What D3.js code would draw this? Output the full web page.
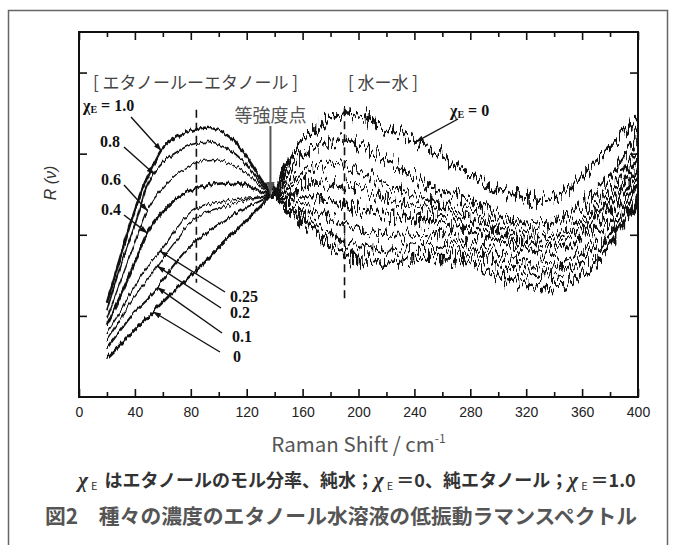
<!DOCTYPE html>
<html>
<head>
<meta charset="utf-8">
<script src="https://cdn.jsdelivr.net/npm/d3@7"></script>
<style>
body{margin:0;background:#fff;}
svg{display:block;}
</style>
</head>
<body>
<svg id="ChartSvg" width="675" height="545"></svg>
<script>
var ShiftValues = [20,30,40,50,60,70,80,90,100,110,120,137,160,190,220,250,280,310,340,370,400];

// ethanol mole fraction of each curve
var MoleFractions = ["1.0","0.8","0.6","0.4","0.25","0.2","0.1","0"];

// R(v), arbitrary units (one unit = one y tick)
var R_E100 = [1.16,1.75,2.31,2.74,3.07,3.21,3.28,3.32,3.29,3.17,2.96,2.52,2.16,1.75,1.66,1.71,1.66,1.44,1.34,1.66,2.45];
var R_E080 = [1.07,1.63,2.12,2.65,2.89,3.02,3.11,3.14,3.11,3.02,2.86,2.50,2.24,1.91,1.81,1.87,1.79,1.59,1.50,1.81,2.58];
var R_E060 = [0.97,1.44,1.90,2.34,2.58,2.75,2.86,2.92,2.92,2.86,2.76,2.50,2.37,2.12,2.00,2.00,1.90,1.71,1.63,1.96,2.70];
var R_E040 = [0.89,1.26,1.66,2.06,2.28,2.45,2.55,2.60,2.63,2.64,2.61,2.49,2.49,2.37,2.24,2.18,2.06,1.87,1.79,2.12,2.82];
var R_E025 = [0.79,1.07,1.38,1.63,1.84,2.08,2.28,2.37,2.40,2.43,2.45,2.49,2.65,2.61,2.43,2.31,2.18,1.96,1.91,2.24,2.95];
var R_E020 = [0.70,0.97,1.25,1.47,1.71,1.94,2.16,2.27,2.33,2.38,2.43,2.49,2.77,2.86,2.61,2.43,2.28,2.06,2.00,2.37,3.07];
var R_E010 = [0.60,0.83,1.05,1.22,1.44,1.66,1.86,2.01,2.13,2.24,2.34,2.49,2.98,3.17,2.92,2.61,2.43,2.18,2.16,2.53,3.23];
var R_E000 = [0.48,0.65,0.83,1.00,1.17,1.34,1.50,1.66,1.84,2.01,2.18,2.49,3.17,3.50,3.32,3.07,2.74,2.49,2.45,2.90,3.44];

var AllSeries = [R_E100,R_E080,R_E060,R_E040,R_E025,R_E020,R_E010,R_E000];

// shift where each label arrow touches its curve
var ArrowShifts = [59,54,49,49,58,56,56,53];
var WaterArrowShift = 241;
var IsoShift = 137;

// dashed guide lines: position and extent
var DashShifts = [84,190];
var DashRanges = [[1.41,3.54],[1.20,3.56]];

var MajorTicks = d3.range(0,401,40);
var MinorTicks = d3.range(20,400,40);
var YTicks = [1,2,3,4];

// ---- layout / style (not data) ----
var Svg = d3.select("#ChartSvg");
var Left = 79, Right = 638, Top = 32, Bottom = 397;

var X = d3.scaleLinear().domain([0,400]).range([Left,Right]);
var Y = d3.scaleLinear().domain([0,4.5]).range([Bottom,Top]);

var LineWidthsLeft = [2.6,1.8,1.4,2.6,1.4,1.4,2,2.6];
var LineWidthsRight = [3.6,3,2.8,3.6,2.8,2.8,3.2,3.6];

var Defs = Svg.append("defs");

function AddNoise(Id, Scale, Freq, Seed)
{
	var F = Defs.append("filter").attr("id",Id)
		.attr("x","-5%").attr("y","-20%").attr("width","110%").attr("height","140%")
		.attr("color-interpolation-filters","sRGB");
	F.append("feTurbulence").attr("type","fractalNoise")
		.attr("baseFrequency",Freq).attr("numOctaves",2).attr("seed",Seed).attr("result","n");
	F.append("feColorMatrix").attr("in","n").attr("type","matrix")
		.attr("values","0 0 0 0 0.5  0 1 0 0 0  0 0 0 0 0  0 0 0 0 1").attr("result","m");
	F.append("feDisplacementMap").attr("in","SourceGraphic").attr("in2","m")
		.attr("scale",Scale).attr("xChannelSelector","R").attr("yChannelSelector","G");
}
AddNoise("NoiseLeft",7,"0.4 0.04",3);
AddNoise("NoiseRight",30,"0.35 0.05",7);

Defs.append("clipPath").attr("id","ClipLeft").append("rect")
	.attr("x",Left).attr("y",Top).attr("width",X(IsoShift)-Left).attr("height",Bottom-Top);
Defs.append("clipPath").attr("id","ClipRight").append("rect")
	.attr("x",X(IsoShift)).attr("y",Top).attr("width",Right-X(IsoShift)).attr("height",Bottom-Top);

function MakeMarker(Id, Size, Color)
{
	Defs.append("marker").attr("id",Id)
		.attr("viewBox","0 0 10 10").attr("refX",10).attr("refY",5)
		.attr("markerWidth",Size).attr("markerHeight",Size)
		.attr("markerUnits","userSpaceOnUse").attr("orient","auto")
		.append("path").attr("d","M0,1.5 L10,5 L0,8.5 z").attr("fill",Color);
}
MakeMarker("ArrowBlack",8,"#111");
MakeMarker("ArrowGray",12,"#555");

// outer frame
Svg.append("rect").attr("x",8.5).attr("y",10.5).attr("width",659).attr("height",560)
	.attr("fill","none").attr("stroke","#666").attr("stroke-width",1.5);

// curves
var Line = d3.line()
	.x(function(d,i){ return X(ShiftValues[i]); })
	.y(function(d){ return Y(d); })
	.curve(d3.curveCatmullRom.alpha(0.5));

[["ClipLeft","NoiseLeft",LineWidthsLeft],["ClipRight","NoiseRight",LineWidthsRight]].forEach(function(Part)
{
	Svg.append("g").attr("clip-path","url(#"+Part[0]+")")
		.append("g").attr("filter","url(#"+Part[1]+")")
		.selectAll("path")
		.data(AllSeries)
		.enter()
		.append("path")
		.attr("d",Line)
		.attr("fill","none")
		.attr("stroke","#111")
		.attr("stroke-width",function(d,i){ return Part[2][i]; })
		.attr("stroke-linejoin","round");
});

// dashed guides
Svg.append("g").selectAll("line")
	.data(DashShifts)
	.enter()
	.append("line")
	.attr("x1",function(d){ return X(d); })
	.attr("x2",function(d){ return X(d); })
	.attr("y1",function(d,i){ return Y(DashRanges[i][1]); })
	.attr("y2",function(d,i){ return Y(DashRanges[i][0]); })
	.attr("stroke","#111").attr("stroke-width",1.6).attr("stroke-dasharray","8,5");

// axes
function StyleAxis(G)
{
	G.selectAll(".domain").remove();
	G.selectAll("line").attr("stroke","#111").attr("stroke-width",1.6);
	G.selectAll("text").attr("font-family","'Liberation Sans', Arial, sans-serif")
		.attr("font-size",14).attr("fill","#222");
}
Svg.append("g").attr("transform","translate(0,"+Bottom+")")
	.call(d3.axisBottom(X).tickValues(MajorTicks).tickSize(-8).tickPadding(10).tickFormat(d3.format("d")))
	.call(StyleAxis);
Svg.append("g").attr("transform","translate(0,"+Bottom+")")
	.call(d3.axisBottom(X).tickValues(MinorTicks).tickSize(-5).tickFormat(""))
	.call(StyleAxis);
Svg.append("g").attr("transform","translate(0,"+Top+")")
	.call(d3.axisTop(X).tickValues(MajorTicks).tickSize(-8).tickFormat(""))
	.call(StyleAxis);
Svg.append("g").attr("transform","translate(0,"+Top+")")
	.call(d3.axisTop(X).tickValues(MinorTicks).tickSize(-5).tickFormat(""))
	.call(StyleAxis);
Svg.append("g").attr("transform","translate("+Left+",0)")
	.call(d3.axisLeft(Y).tickValues(YTicks).tickSize(-8).tickFormat(""))
	.call(StyleAxis);
Svg.append("g").attr("transform","translate("+Right+",0)")
	.call(d3.axisRight(Y).tickValues(YTicks).tickSize(-8).tickFormat(""))
	.call(StyleAxis);

Svg.append("rect").attr("x",Left).attr("y",Top).attr("width",Right-Left).attr("height",Bottom-Top)
	.attr("fill","none").attr("stroke","#111").attr("stroke-width",2);

// value on a curve (for arrow tips)
function ValueAt(Series, S)
{
	for (var i = 1; i < ShiftValues.length; i++)
	{
		if (S <= ShiftValues[i])
		{
			var t = (S - ShiftValues[i-1]) / (ShiftValues[i] - ShiftValues[i-1]);
			return Series[i-1] + t * (Series[i] - Series[i-1]);
		}
	}
	return Series[Series.length-1];
}

// label placement (pixels): text x, text baseline y, arrow start x, y
var LabelLayout = [
	[83,111,131,117],
	[100,147,124,147],
	[101,185,124,185],
	[101,215,124,215],
	[230,302,225,292],
	[230,318,221,308],
	[232,342,222,333],
	[233,362,220,352]
];

var SerifFont = "'Liberation Serif', 'Times New Roman', serif";
var Notes = Svg.append("g");

MoleFractions.forEach(function(F, i)
{
	var L = LabelLayout[i];
	Notes.append("line")
		.attr("x1",L[2]).attr("y1",L[3])
		.attr("x2",X(ArrowShifts[i])).attr("y2",Y(ValueAt(AllSeries[i],ArrowShifts[i])))
		.attr("stroke","#111").attr("stroke-width",1.4)
		.attr("marker-end","url(#ArrowBlack)");
	var T = Notes.append("text").attr("x",L[0]).attr("y",L[1])
		.attr("font-family",SerifFont).attr("font-size",16).attr("font-weight","bold").attr("fill","#111");
	if (i === 0)
	{
		T.append("tspan").text("χ");
		T.append("tspan").attr("font-size",10).attr("dy",2).text("E");
		T.append("tspan").attr("dy",-2).text(" = " + F);
	}
	else
	{
		T.text(F);
	}
});

// water label
Notes.append("line")
	.attr("x1",458).attr("y1",119)
	.attr("x2",X(WaterArrowShift)).attr("y2",Y(ValueAt(R_E000,WaterArrowShift)))
	.attr("stroke","#111").attr("stroke-width",1.4)
	.attr("marker-end","url(#ArrowBlack)");
var WaterText = Notes.append("text").attr("x",450).attr("y",116)
	.attr("font-family",SerifFont).attr("font-size",16).attr("font-weight","bold").attr("fill","#111");
WaterText.append("tspan").text("χ");
WaterText.append("tspan").attr("font-size",10).attr("dy",2).text("E");
WaterText.append("tspan").attr("dy",-2).text(" = 0");

// isosbestic point
var JpFont = "'Noto Sans CJK JP', sans-serif";
Notes.append("text").attr("x",X(IsoShift)).attr("y",122).attr("text-anchor","middle")
	.attr("font-family",JpFont).attr("font-size",18).attr("fill","#555").text("等強度点");
Notes.append("line")
	.attr("x1",X(IsoShift)).attr("y1",126)
	.attr("x2",X(IsoShift)).attr("y2",Y(ValueAt(R_E000,IsoShift)) - 1)
	.attr("stroke","#555").attr("stroke-width",2)
	.attr("marker-end","url(#ArrowGray)");

Notes.append("text").attr("x",93).attr("y",89)
	.attr("font-family",JpFont).attr("font-size",17).attr("fill","#444")
	.attr("xml:space","preserve").text("[ エタノールーエタノール ]");
Notes.append("text").attr("x",348).attr("y",89)
	.attr("font-family",JpFont).attr("font-size",17).attr("fill","#444")
	.attr("xml:space","preserve").text("[ 水ー水 ]");

// axis titles
Svg.append("text").attr("transform","translate(56,183) rotate(-90)")
	.attr("text-anchor","middle")
	.attr("font-family","'Liberation Sans', Arial, sans-serif").attr("font-style","italic")
	.attr("font-size",16).attr("fill","#333").text("R (ν)");

var XTitle = Svg.append("text").attr("x",(Left+Right)/2).attr("y",452).attr("text-anchor","middle")
	.attr("font-family",JpFont).attr("font-size",20.5).attr("fill","#555");
XTitle.append("tspan").text("Raman Shift / cm");
XTitle.append("tspan").attr("font-size",12).attr("dy",-9).text("-1");

// captions
var Cap1 = Svg.append("text").attr("x",357).attr("y",487).attr("text-anchor","middle")
	.attr("font-family",JpFont).attr("font-size",18).attr("font-weight","bold").attr("fill","#333");
function Chi(T)
{
	T.append("tspan").attr("font-family",SerifFont).attr("font-style","italic").attr("font-size",21).text("χ");
	T.append("tspan").attr("font-size",11).attr("font-weight","normal").attr("dx",3).attr("dy",3).text("E");
}
Chi(Cap1);
Cap1.append("tspan").attr("dy",-3).attr("dx",7).text("はエタノールのモル分率、純水；");
Chi(Cap1);
Cap1.append("tspan").attr("dy",-3).attr("dx",3).text("＝0、純エタノール；");
Chi(Cap1);
Cap1.append("tspan").attr("dy",-3).attr("dx",3).text("＝1.0");

Svg.append("text").attr("x",341).attr("y",524).attr("text-anchor","middle")
	.attr("font-family",JpFont).attr("font-size",20.8).attr("font-weight","bold").attr("fill","#555")
	.attr("xml:space","preserve").text("図2　種々の濃度のエタノール水溶液の低振動ラマンスペクトル");
</script>
</body>
</html>
